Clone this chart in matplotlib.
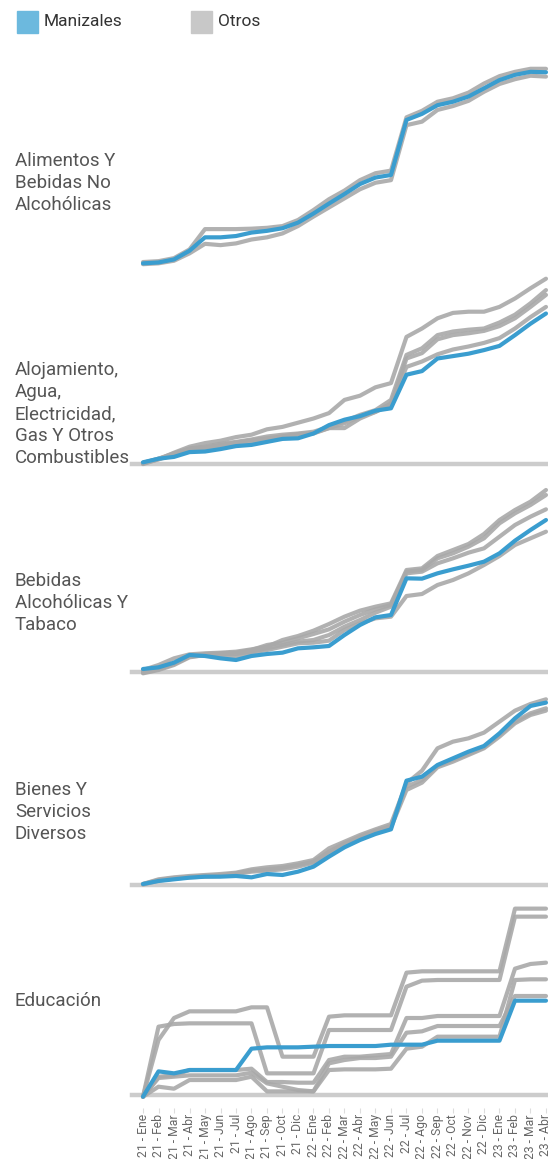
import numpy as np
import matplotlib.pyplot as plt
from matplotlib.patches import Rectangle

plt.rcParams['font.family'] = ['Roboto', 'DejaVu Sans']

# meses (no hay 21 - Nov en la serie)
meses = ['21 - Ene', '21 - Feb', '21 - Mar', '21 - Abr', '21 - May', '21 - Jun',
         '21 - Jul', '21 - Ago', '21 - Sep', '21 - Oct', '21 - Dic',
         '22 - Ene', '22 - Feb', '22 - Mar', '22 - Abr', '22 - May', '22 - Jun',
         '22 - Jul', '22 - Ago', '22 - Sep', '22 - Oct', '22 - Nov', '22 - Dic',
         '23 - Ene', '23 - Feb', '23 - Mar', '23 - Abr']

categorias = ['Alimentos Y\nBebidas No\nAlcohólicas',
              'Alojamiento,\nAgua,\nElectricidad,\nGas Y Otros\nCombustibles',
              'Bebidas\nAlcohólicas Y\nTabaco',
              'Bienes Y\nServicios\nDiversos',
              'Educación']

# variacion acumulada (%) desde 21 - Ene
alimentos_manizales = [0, 0.2, 0.9, 2.9, 6.0, 6.0, 6.3, 7.1, 7.5, 8.1, 9.4, 11.5, 13.8, 16.0,
                       18.3, 19.8, 20.4, 33.1, 34.5, 36.5, 37.3, 38.5, 40.4, 42.3, 43.5, 44.2, 44.1]
alimentos_otros = [
    [0.3, 0.5, 1.2, 3.2, 7.9, 7.9, 7.9, 8.0, 8.2, 8.6, 10.0, 12.3, 14.8, 16.8,
     19.2, 20.8, 21.4, 33.7, 35.2, 37.3, 38.1, 39.4, 41.5, 43.2, 44.2, 44.9, 44.9],
    [-0.2, 0, 0.6, 2.3, 4.5, 4.2, 4.6, 5.5, 6.0, 6.9, 8.6, 10.8, 12.9, 15.0,
     17.1, 18.6, 19.2, 31.9, 32.7, 35.4, 36.3, 37.5, 39.6, 41.4, 42.5, 43.3, 43.1],
]

alojamiento_manizales = [0, 0.6, 0.9, 1.7, 1.8, 2.2, 2.7, 2.9, 3.4, 3.9, 4.0, 4.8, 6.2, 7.1,
                         7.7, 8.6, 9.0, 14.6, 15.2, 17.3, 17.7, 18.1, 18.7, 19.4, 21.2, 23.1, 24.8]
alojamiento_otros = [
    [-0.3, 0.5, 1.6, 2.6, 3.2, 3.6, 4.2, 4.6, 5.5, 5.9, 6.6, 7.3, 8.2, 10.4,
     11.1, 12.5, 13.2, 20.9, 22.3, 24.0, 24.9, 25.1, 25.1, 25.9, 27.3, 29.0, 30.6],
    [-0.1, 0.6, 1.5, 2.3, 2.6, 3.1, 3.4, 3.8, 4.3, 4.6, 4.8, 5.1, 5.9, 6.8,
     7.9, 8.7, 10.4, 17.9, 19.0, 21.2, 21.8, 22.1, 22.3, 23.3, 24.6, 26.5, 28.7],
    [-0.2, 0.5, 1.2, 2.1, 2.3, 2.8, 3.2, 3.4, 3.8, 4.3, 4.6, 4.8, 5.7, 5.7,
     7.3, 8.4, 9.7, 17.3, 18.2, 20.5, 21.2, 21.5, 21.9, 22.7, 24.0, 25.9, 27.9],
    [-0.1, 0.6, 1.3, 2.2, 2.5, 2.9, 3.3, 3.7, 4.0, 4.3, 4.7, 4.9, 5.7, 6.5,
     7.6, 8.4, 9.8, 15.9, 16.8, 18.0, 18.8, 19.3, 19.9, 20.7, 22.3, 24.2, 25.9],
]

bebidas_manizales = [0.15, 0.4, 1.1, 2.25, 2.1, 1.75, 1.5, 2.1, 2.4, 2.6, 3.25, 3.4, 3.6, 5.25,
                     6.75, 7.9, 8.25, 13.75, 13.7, 14.5, 15.1, 15.65, 16.25, 17.5, 19.4, 21.0, 22.5]
bebidas_otros = [
    [0, 0.75, 1.75, 2.35, 2.5, 2.6, 2.75, 3.1, 3.5, 4.5, 5.1, 5.9, 6.9, 8.0,
     8.9, 9.5, 10.0, 15.0, 15.25, 17.1, 18.0, 18.9, 20.4, 22.5, 24.0, 25.25, 27.0],
    [-0.25, 0.25, 1.0, 2.0, 2.4, 2.5, 2.6, 3.0, 3.75, 4.1, 4.75, 5.4, 6.1, 7.25,
     8.25, 9.1, 9.75, 14.75, 15.0, 16.75, 17.5, 18.5, 19.75, 22.0, 23.5, 24.75, 26.25],
    [-0.5, 0, 0.75, 1.9, 2.25, 2.4, 2.4, 2.75, 3.25, 3.75, 4.25, 4.5, 5.25, 6.5,
     7.5, 8.6, 9.5, 14.5, 14.75, 16.0, 16.75, 17.6, 18.25, 20.0, 21.75, 23.0, 24.1],
    [-0.4, 0.1, 0.9, 2.0, 2.2, 2.0, 2.0, 2.6, 3.0, 3.5, 4.0, 4.1, 4.4, 6.0,
     7.0, 7.75, 8.0, 11.1, 11.4, 12.75, 13.5, 14.5, 15.75, 17.1, 18.75, 19.75, 20.75],
]

bienes_manizales = [0, 0.36, 0.56, 0.76, 0.88, 0.88, 0.96, 0.8, 1.2, 1.08, 1.48, 2.08, 3.28, 4.4,
                    5.28, 6.0, 6.56, 12.4, 12.88, 14.28, 15.08, 15.88, 16.56, 18.08, 19.88, 21.36, 21.76]
bienes_otros = [
    [0, 0.56, 0.8, 0.96, 1.08, 1.2, 1.36, 1.76, 2.0, 2.16, 2.48, 2.88, 4.28, 5.08,
     5.88, 6.56, 7.2, 12.08, 13.6, 16.28, 17.08, 17.48, 18.16, 19.48, 20.8, 21.6, 22.16],
    [0, 0.48, 0.72, 0.88, 1.0, 1.08, 1.28, 1.6, 1.76, 1.96, 2.28, 2.68, 3.88, 4.88,
     5.68, 6.4, 6.96, 11.68, 12.48, 14.16, 14.88, 15.6, 16.4, 17.88, 19.48, 20.48, 21.08],
    [-0.08, 0.4, 0.64, 0.8, 0.88, 0.96, 1.2, 1.48, 1.6, 1.76, 2.08, 2.56, 3.68, 4.68,
     5.48, 6.28, 6.8, 11.28, 12.16, 14.0, 14.68, 15.48, 16.28, 17.68, 19.28, 20.28, 20.8],
]

educacion_manizales = [0, 1.9, 1.75, 2.0, 2.0, 2.0, 2.0, 3.6, 3.7, 3.7, 3.7, 3.75, 3.8, 3.8,
                       3.8, 3.8, 3.9, 3.9, 3.9, 4.2, 4.2, 4.2, 4.2, 4.2, 7.2, 7.2, 7.2]
educacion_otros = [
    [0, 4.25, 5.9, 6.4, 6.4, 6.4, 6.4, 6.7, 6.7, 3.0, 3.0, 3.0, 6.0, 6.1,
     6.1, 6.1, 6.1, 9.3, 9.4, 9.4, 9.4, 9.4, 9.4, 9.4, 14.1, 14.1, 14.1],
    [0, 5.25, 5.45, 5.5, 5.5, 5.5, 5.5, 5.5, 1.75, 1.75, 1.75, 1.75, 5.0, 5.0,
     5.0, 5.0, 5.0, 8.25, 8.7, 8.75, 8.75, 8.75, 8.75, 8.75, 13.5, 13.5, 13.5],
    [0, 1.5, 1.6, 2.0, 2.0, 2.0, 2.0, 2.1, 1.1, 1.1, 1.05, 1.05, 2.75, 3.0,
     3.0, 3.1, 3.2, 5.9, 5.9, 6.05, 6.05, 6.05, 6.05, 6.05, 9.6, 9.95, 10.05],
    [0, 0.75, 0.6, 1.25, 1.25, 1.25, 1.25, 1.5, 0.4, 0.4, 0.4, 0.4, 2.0, 2.05,
     2.05, 2.05, 2.1, 3.6, 3.75, 4.5, 4.5, 4.5, 4.5, 4.5, 8.75, 8.8, 8.8],
    [0, 1.4, 1.5, 1.6, 1.6, 1.6, 1.6, 1.8, 1.0, 0.75, 0.5, 0.4, 2.5, 2.75,
     2.9, 2.9, 3.0, 4.8, 4.9, 5.3, 5.3, 5.3, 5.3, 5.3, 7.55, 7.55, 7.55],
]

manizales = [alimentos_manizales, alojamiento_manizales, bebidas_manizales,
             bienes_manizales, educacion_manizales]
otros = [alimentos_otros, alojamiento_otros, bebidas_otros, bienes_otros, educacion_otros]

# layout en pixeles (top, bottom) de cada panel, limites y y del texto
W, H = 548, 1159
paneles_px = [(66.2, 265.5), (276.3, 464.1), (488, 672), (697.3, 885), (907.3, 1094.7)]
ylims = [(-0.5, 45.5), (-0.3, 31), (-0.3, 27.3), (-0.12, 22.4), (0.15, 14.2)]
label_y = [183, 414, 603, 812, 1001]
baseline = [False, True, True, True, True]

AZUL = '#3a9dcf'
GRIS = '#a9a9a9'
BASE = '#cccccc'

fig = plt.figure(figsize=(W / 100, H / 100), dpi=100)
x = np.arange(len(meses))

for k in range(5):
    top, bot = paneles_px[k]
    ax = fig.add_axes([132 / W, 1 - bot / H, (W - 132) / W, (bot - top) / H])
    for serie in otros[k]:
        ax.plot(x, serie, color=GRIS, lw=3, alpha=0.9, solid_capstyle='round',
                solid_joinstyle='round', clip_on=False, zorder=3)
    ax.plot(x, manizales[k], color=AZUL, lw=3, solid_capstyle='round',
            solid_joinstyle='round', clip_on=False, zorder=4)
    ax.set_xlim(-0.71, 26.13)
    ax.set_ylim(*ylims[k])
    if baseline[k]:
        ax.axhline(ylims[k][0], color=BASE, lw=3.2, zorder=2, clip_on=False)
    for s in ax.spines.values():
        s.set_visible(False)
    ax.set_yticks([])
    if k == 4:
        ax.spines['bottom'].set_position(('outward', 9.5))
        ax.set_xticks(x)
        ax.set_xticklabels(meses, rotation=90, fontsize=8.7, color='#666666')
        ax.tick_params(axis='x', length=3.5, width=0.8, color='#dddddd', pad=1)
    else:
        ax.set_xticks([])
    fig.text(15 / W, 1 - label_y[k] / H, categorias[k], fontsize=13.5, color='#555555',
             va='center', ha='left', linespacing=1.3)

# leyenda
fig.patches.append(Rectangle((17 / W, 1 - 33 / H), 21 / W, 22 / H, color='#6cb9de',
                             transform=fig.transFigure, figure=fig))
fig.text(44 / W, 1 - 22 / H, 'Manizales', fontsize=12.5, color='#333333', va='center')
fig.patches.append(Rectangle((191 / W, 1 - 33 / H), 21 / W, 22 / H, color='#c8c8c8',
                             transform=fig.transFigure, figure=fig))
fig.text(218 / W, 1 - 22 / H, 'Otros', fontsize=12.5, color='#333333', va='center')

fig.savefig('out.png', dpi=100)
